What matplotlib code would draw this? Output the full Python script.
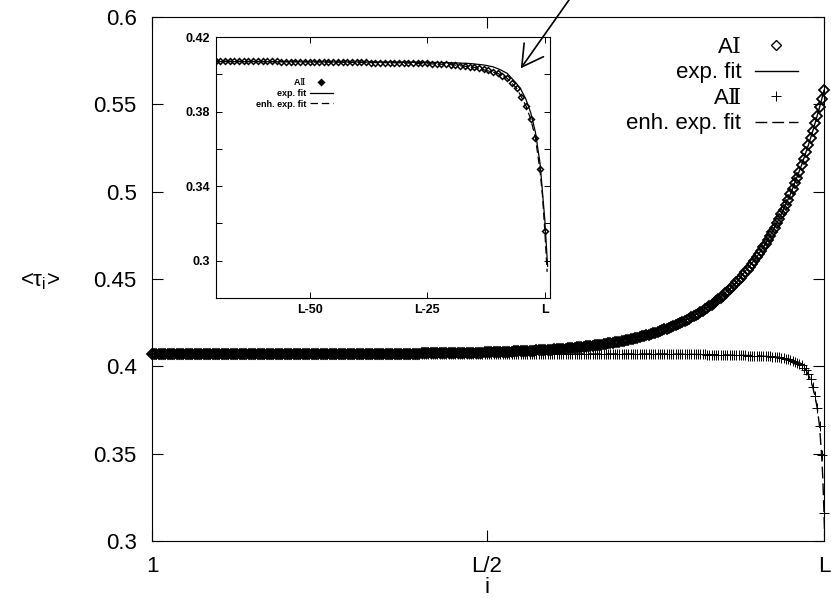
import matplotlib
matplotlib.use('Agg')
import matplotlib.pyplot as plt

plt.rcParams['font.family'] = ['Liberation Sans', 'DejaVu Sans']
plt.rcParams['mathtext.fontset'] = 'custom'
plt.rcParams['mathtext.rm'] = 'DejaVu Serif'
plt.rcParams['mathtext.it'] = 'Liberation Sans:italic'

# ---------------- data ----------------
L = 300  # number of sites in the chain
sites = list(range(1, L + 1))

# A-I : flat part (i = 1 .. 120)
ai_flat = [
    0.407, 0.407, 0.407, 0.407, 0.407, 0.407, 0.407, 0.407, 0.407, 0.407, 0.407, 0.407, 0.407, 0.407, 0.407, 0.407, 0.407, 0.407, 0.407, 0.407,
    0.407, 0.407, 0.407, 0.407, 0.407, 0.407, 0.407, 0.407, 0.407, 0.407, 0.407, 0.407, 0.407, 0.407, 0.407, 0.407, 0.407, 0.407, 0.407, 0.407,
    0.407, 0.407, 0.407, 0.407, 0.407, 0.407, 0.407, 0.407, 0.407, 0.407, 0.407, 0.407, 0.407, 0.407, 0.407, 0.407, 0.407, 0.407, 0.407, 0.407,
    0.407, 0.407, 0.407, 0.407, 0.407, 0.407, 0.407, 0.407, 0.407, 0.407, 0.407, 0.407, 0.407, 0.407, 0.407, 0.407, 0.407, 0.407, 0.407, 0.407,
    0.407, 0.407, 0.407, 0.407, 0.407, 0.407, 0.407, 0.407, 0.407, 0.407, 0.407, 0.407, 0.407, 0.407, 0.407, 0.407, 0.407, 0.407, 0.407, 0.407,
    0.407, 0.407, 0.407, 0.407, 0.407, 0.407, 0.407, 0.407, 0.407, 0.407, 0.407, 0.407, 0.407, 0.407, 0.407, 0.407, 0.407, 0.407, 0.407, 0.407,
]
# A-I : values counted from the right end (i = L, L-1, ..., L-179)
ai_from_end = [
    0.5580, 0.5530, 0.5482, 0.5436, 0.5391, 0.5347, 0.5305, 0.5265, 0.5226, 0.5188,
    0.5151, 0.5115, 0.5081, 0.5048, 0.5015, 0.4984, 0.4954, 0.4925, 0.4897, 0.4870,
    0.4844, 0.4818, 0.4794, 0.4770, 0.4747, 0.4724, 0.4703, 0.4682, 0.4662, 0.4642,
    0.4624, 0.4605, 0.4588, 0.4571, 0.4554, 0.4538, 0.4523, 0.4508, 0.4494, 0.4480,
    0.4466, 0.4453, 0.4441, 0.4428, 0.4417, 0.4405, 0.4394, 0.4384, 0.4373, 0.4363,
    0.4354, 0.4344, 0.4335, 0.4327, 0.4318, 0.4310, 0.4302, 0.4294, 0.4287, 0.4280,
    0.4273, 0.4266, 0.4260, 0.4254, 0.4248, 0.4242, 0.4236, 0.4231, 0.4225, 0.4220,
    0.4215, 0.4211, 0.4206, 0.4201, 0.4197, 0.4193, 0.4189, 0.4185, 0.4181, 0.4178,
    0.4174, 0.4171, 0.4167, 0.4164, 0.4161, 0.4158, 0.4155, 0.4152, 0.4150, 0.4147,
    0.4144, 0.4142, 0.4140, 0.4137, 0.4135, 0.4133, 0.4131, 0.4129, 0.4127, 0.4125,
    0.4123, 0.4122, 0.4120, 0.4118, 0.4117, 0.4115, 0.4114, 0.4112, 0.4111, 0.4109,
    0.4108, 0.4107, 0.4106, 0.4104, 0.4103, 0.4102, 0.4101, 0.4100, 0.4099, 0.4098,
    0.4097, 0.4096, 0.4096, 0.4095, 0.4094, 0.4093, 0.4092, 0.4092, 0.4091, 0.4090,
    0.4090, 0.4089, 0.4088, 0.4088, 0.4087, 0.4087, 0.4086, 0.4085, 0.4085, 0.4084,
    0.4084, 0.4084, 0.4083, 0.4083, 0.4082, 0.4082, 0.4081, 0.4081, 0.4081, 0.4080,
    0.4080, 0.4080, 0.4079, 0.4079, 0.4079, 0.4078, 0.4078, 0.4078, 0.4078, 0.4077,
    0.4077, 0.4077, 0.4077, 0.4076, 0.4076, 0.4076, 0.4076, 0.4076, 0.4075, 0.4075,
    0.4075, 0.4075, 0.4075, 0.4075, 0.4074, 0.4074, 0.4074, 0.4074, 0.4074, 0.4074,
]

# A-II : flat part (i = 1 .. 230)
aii_flat = [
    0.407, 0.407, 0.407, 0.407, 0.407, 0.407, 0.407, 0.407, 0.407, 0.407, 0.407, 0.407, 0.407, 0.407, 0.407, 0.407, 0.407, 0.407, 0.407, 0.407,
    0.407, 0.407, 0.407, 0.407, 0.407, 0.407, 0.407, 0.407, 0.407, 0.407, 0.407, 0.407, 0.407, 0.407, 0.407, 0.407, 0.407, 0.407, 0.407, 0.407,
    0.407, 0.407, 0.407, 0.407, 0.407, 0.407, 0.407, 0.407, 0.407, 0.407, 0.407, 0.407, 0.407, 0.407, 0.407, 0.407, 0.407, 0.407, 0.407, 0.407,
    0.407, 0.407, 0.407, 0.407, 0.407, 0.407, 0.407, 0.407, 0.407, 0.407, 0.407, 0.407, 0.407, 0.407, 0.407, 0.407, 0.407, 0.407, 0.407, 0.407,
    0.407, 0.407, 0.407, 0.407, 0.407, 0.407, 0.407, 0.407, 0.407, 0.407, 0.407, 0.407, 0.407, 0.407, 0.407, 0.407, 0.407, 0.407, 0.407, 0.407,
    0.407, 0.407, 0.407, 0.407, 0.407, 0.407, 0.407, 0.407, 0.407, 0.407, 0.407, 0.407, 0.407, 0.407, 0.407, 0.407, 0.407, 0.407, 0.407, 0.407,
    0.407, 0.407, 0.407, 0.407, 0.407, 0.407, 0.407, 0.407, 0.407, 0.407, 0.407, 0.407, 0.407, 0.407, 0.407, 0.407, 0.407, 0.407, 0.407, 0.407,
    0.407, 0.407, 0.407, 0.407, 0.407, 0.407, 0.407, 0.407, 0.407, 0.407, 0.407, 0.407, 0.407, 0.407, 0.407, 0.407, 0.407, 0.407, 0.407, 0.407,
    0.407, 0.407, 0.407, 0.407, 0.407, 0.407, 0.407, 0.407, 0.407, 0.407, 0.407, 0.407, 0.407, 0.407, 0.407, 0.407, 0.407, 0.407, 0.407, 0.407,
    0.407, 0.407, 0.407, 0.407, 0.407, 0.407, 0.407, 0.407, 0.407, 0.407, 0.407, 0.407, 0.407, 0.407, 0.407, 0.407, 0.407, 0.407, 0.407, 0.407,
    0.407, 0.407, 0.407, 0.407, 0.407, 0.407, 0.407, 0.407, 0.407, 0.407, 0.407, 0.407, 0.407, 0.407, 0.407, 0.407, 0.407, 0.407, 0.407, 0.407,
    0.407, 0.407, 0.407, 0.407, 0.407, 0.407, 0.407, 0.407, 0.407, 0.407,
]
# A-II : values counted from the right end (i = L, L-1, ..., L-69)
aii_from_end = [
    0.316, 0.349, 0.366, 0.376, 0.383, 0.388, 0.3925, 0.3955, 0.3978, 0.3993,
    0.4005, 0.4014, 0.4021, 0.4027, 0.4032, 0.4037, 0.4041, 0.4044, 0.4047, 0.4050,
    0.4052, 0.4054, 0.4055, 0.4056, 0.4057, 0.4058, 0.4059, 0.4059, 0.4060, 0.4060,
    0.4061, 0.4061, 0.4062, 0.4062, 0.4062, 0.4063, 0.4063, 0.4063, 0.4064, 0.4064,
    0.4064, 0.4065, 0.4065, 0.4065, 0.4065, 0.4066, 0.4066, 0.4066, 0.4066, 0.4067,
    0.4067, 0.4067, 0.4067, 0.4068, 0.4068, 0.4068, 0.4068, 0.4069, 0.4069, 0.4069,
    0.4069, 0.4069, 0.4070, 0.4070, 0.4070, 0.4070, 0.4070, 0.4071, 0.4071, 0.4071,
]

ai = ai_flat + ai_from_end[::-1]
aii = aii_flat + aii_from_end[::-1]

# fit curves, position given as offset k = i - L
ai_fit_k = [-299, -200, -160, -130, -100, -80, -60, -50, -40, -30, -25, -20, -15, -10, -7, -5, -3, -2, -1, 0]
ai_fit_v = [0.4070, 0.4072, 0.4077, 0.4090, 0.4123, 0.4174, 0.4273, 0.4354, 0.4466, 0.4624,
            0.4724, 0.4844, 0.4984, 0.5151, 0.5265, 0.5347, 0.5436, 0.5482, 0.5530, 0.5580]

aii_exp_k = [-299, -70, -40, -25, -20, -16, -13, -11, -9.5, -8, -6, -5, -4, -3, -2, -1, 0, 0.6]
aii_exp_v = [0.4068, 0.4068, 0.4066, 0.4064, 0.4062, 0.4058, 0.4050, 0.4040, 0.4025, 0.4005,
             0.3950, 0.3915, 0.3865, 0.3795, 0.3690, 0.3520, 0.3220, 0.2970]

aii_enh_k = [-299, -70, -50, -30, -20, -15, -10, -8, -6, -5, -4, -3, -2, -1, -0.5, 0, 0.5]
aii_enh_v = [0.4070, 0.4071, 0.4067, 0.4061, 0.4052, 0.4037, 0.4005, 0.3978, 0.3925, 0.3880,
             0.3830, 0.3760, 0.3660, 0.3480, 0.3350, 0.3160, 0.2940]

main_yticks = [0.3, 0.35, 0.4, 0.45, 0.5, 0.55, 0.6]
main_yticklabels = ['0.3', '0.35', '0.4', '0.45', '0.5', '0.55', '0.6']
main_xticklabels = ['1', 'L/2', 'L']
inset_k_window = 70
inset_xticks = [-50, -25, 0]
inset_xticklabels = ['L-50', 'L-25', 'L']
inset_yticks = [0.30, 0.32, 0.34, 0.36, 0.38, 0.40, 0.42]
inset_yticklabels = ['0.3', '', '0.34', '', '0.38', '', '0.42']

label_ai = 'A$\\mathrm{\u2160}$'
label_aii = 'A$\\mathrm{\u2161}$'

# ---------------- figure ----------------
W, H = 831, 598
fig = plt.figure(figsize=(W / 100, H / 100), dpi=100)

def px_axes(l, t, r, b):
    return [l / W, 1 - b / H, (r - l) / W, (b - t) / H]

ax = fig.add_axes(px_axes(152, 17, 824, 541))
ax.set_xlim(1, L)
ax.set_ylim(0.3, 0.6)

ln_ai, = ax.plot(sites, ai, ls='none', marker='D', ms=4.8, mfc='none', mec='black',
                 mew=1.3, clip_on=False, label=label_ai)
ln_aifit, = ax.plot([L + k for k in ai_fit_k], ai_fit_v, color='black', lw=1.0, label='exp. fit')
ln_aii, = ax.plot(sites, aii, ls='none', marker='+', ms=7.5, mec='black', mew=0.7,
                  clip_on=False, label=label_aii)
ln_enh, = ax.plot([L + k for k in aii_enh_k], aii_enh_v, color='black', lw=1.0,
                  dashes=(8.5, 3.6), label='enh. exp. fit')

ax.set_xticks([1, L // 2, L])
ax.set_xticklabels(main_xticklabels)
ax.set_yticks(main_yticks)
ax.set_yticklabels(main_yticklabels)
ax.tick_params(direction='in', top=True, right=True, length=8, width=0.8,
               labelsize=16, pad=11)
for s in ax.spines.values():
    s.set_linewidth(0.8)

leg = ax.legend(handles=[ln_ai, ln_aifit, ln_aii, ln_enh], loc='upper right',
                bbox_to_anchor=(798 / W, 1 - 37 / H), bbox_transform=fig.transFigure,
                frameon=False, markerfirst=False, fontsize=16, handlelength=1.95,
                handletextpad=0.6, labelspacing=0.2, borderpad=0, borderaxespad=0)
for h in leg.legend_handles:
    if h.get_marker() == 'D':
        h.set_markeredgewidth(1.0)

fig.text(40 / W, 1 - 282 / H, '<$\\mathregular{\\tau_i}$>', fontsize=16,
         ha='center', va='center')
fig.text(487 / W, 0.0, 'i', fontsize=16, ha='center', va='bottom')

# ---------------- inset ----------------
axi = fig.add_axes(px_axes(215.5, 37, 549.5, 298))
axi.set_xlim(-inset_k_window, 1)
axi.set_ylim(0.28, 0.42)
in_k = [i - L for i in sites[-(inset_k_window + 1):]]
in_v = aii[-(inset_k_window + 1):]
p_in, = axi.plot(in_k, in_v, ls='none', marker='D', ms=3.0, mfc='white', mec='black',
                 mew=1.1, label=label_aii)
l_exp, = axi.plot(aii_exp_k, aii_exp_v, color='black', lw=0.9, label='exp. fit')
l_enh, = axi.plot(aii_enh_k, aii_enh_v, color='black', lw=0.9, dashes=(6, 3),
                  label='enh. exp. fit')
axi.set_xticks(inset_xticks)
axi.set_xticklabels(inset_xticklabels)
axi.set_yticks(inset_yticks)
axi.set_yticklabels(inset_yticklabels)
axi.tick_params(direction='in', top=True, right=True, length=4.5, width=0.7,
                labelsize=9, pad=4)
for t in axi.get_xticklabels() + axi.get_yticklabels():
    t.set_fontweight('bold')
for s in axi.spines.values():
    s.set_linewidth(0.8)

leg2 = axi.legend(handles=[p_in, l_exp, l_enh], loc='upper right',
                  bbox_to_anchor=(333 / W, 1 - 76 / H), bbox_transform=fig.transFigure,
                  frameon=False, markerfirst=False, handlelength=2.6,
                  handletextpad=0.4, labelspacing=0.2, borderpad=0, borderaxespad=0,
                  prop={'size': 6.5, 'weight': 'bold'})
for h in leg2.legend_handles:
    if h.get_marker() == 'D':
        h.set_markerfacecolor('black')

# arrow pointing at the bend of the inset curve
axi.annotate('', xy=(-5.1, 0.4032), xycoords='data',
             xytext=(569 / W, 1.0), textcoords='figure fraction',
             arrowprops=dict(arrowstyle='->,head_length=1.5,head_width=0.85',
                             mutation_scale=10, lw=1.2, color='black',
                             shrinkA=0, shrinkB=0),
             annotation_clip=False)

fig.savefig('out.png', dpi=100)
